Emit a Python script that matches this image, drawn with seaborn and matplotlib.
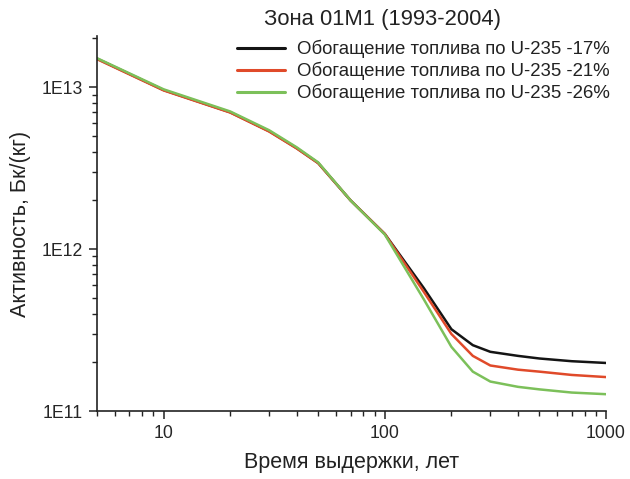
import matplotlib
matplotlib.use("Agg")
import matplotlib.pyplot as plt
import matplotlib.ticker as mticker
import numpy as np
import pandas as pd
import seaborn as sns

# Decay time, years
years = [5, 10, 20, 30, 40, 50, 70, 100, 150, 200, 250, 300, 400, 500, 700, 1000]

# Specific activity, Bq/kg, for three fuel enrichments
act_17 = [1.50e13, 9.6e12, 7.0e12, 5.35e12, 4.2e12, 3.4e12, 2.0e12, 1.24e12,
          5.75e11, 3.2e11, 2.55e11, 2.32e11, 2.19e11, 2.11e11, 2.03e11, 1.98e11]
act_21 = [1.49e13, 9.55e12, 6.97e12, 5.32e12, 4.18e12, 3.39e12, 2.0e12, 1.24e12,
          5.45e11, 2.99e11, 2.19e11, 1.91e11, 1.80e11, 1.75e11, 1.67e11, 1.62e11]
act_26 = [1.51e13, 9.7e12, 7.08e12, 5.42e12, 4.25e12, 3.43e12, 2.0e12, 1.23e12,
          4.9e11, 2.49e11, 1.75e11, 1.52e11, 1.41e11, 1.36e11, 1.30e11, 1.27e11]

series_labels = [
    "Обогащение топлива по U-235 -17%",
    "Обогащение топлива по U-235 -21%",
    "Обогащение топлива по U-235 -26%",
]
colors = ["#141414", "#e04a2a", "#7cc05a"]

title = "Зона 01М1 (1993-2004)"
x_label = "Время выдержки, лет"
y_label = "Активность, Бк/(кг)"

frames = []
for lab, vals in zip(series_labels, [act_17, act_21, act_26]):
    frames.append(pd.DataFrame({"years": years, "activity": vals, "series": lab}))
df = pd.concat(frames, ignore_index=True)

sns.set_style("ticks")
plt.rcParams["font.family"] = ["Liberation Sans", "DejaVu Sans"]

fig = plt.figure(figsize=(6.30, 4.79), dpi=100)
ax = fig.add_axes([97 / 630, 1 - 411 / 479, (606 - 97) / 630, (411 - 36) / 479])

sns.lineplot(data=df, x="years", y="activity", hue="series",
             hue_order=series_labels, palette=colors, linewidth=1.8,
             ax=ax, legend=True)

ax.set_xscale("log")
ax.set_yscale("log")
ax.set_xlim(5, 1000)
ax.set_ylim(1e11, 2.07e13)

ax.xaxis.set_major_locator(mticker.FixedLocator([10, 100, 1000]))
ax.xaxis.set_major_formatter(mticker.FixedFormatter(["10", "100", "1000"]))
ax.xaxis.set_minor_locator(mticker.LogLocator(base=10, subs=np.arange(2, 10)))
ax.xaxis.set_minor_formatter(mticker.NullFormatter())

ax.yaxis.set_major_locator(mticker.FixedLocator([1e11, 1e12, 1e13]))
ax.yaxis.set_major_formatter(mticker.FixedFormatter(["1E11", "1E12", "1E13"]))
ax.yaxis.set_minor_locator(mticker.LogLocator(base=10, subs=np.arange(2, 10)))
ax.yaxis.set_minor_formatter(mticker.NullFormatter())

ax.tick_params(axis="both", which="major", direction="out", length=6,
               width=1.1, labelsize=12.7, color="#222222", pad=4)
ax.tick_params(axis="both", which="minor", direction="out", length=3.5,
               width=1.0, color="#222222")

for side in ["top", "right"]:
    ax.spines[side].set_visible(False)
for side in ["left", "bottom"]:
    ax.spines[side].set_linewidth(1.2)
    ax.spines[side].set_color("#222222")

ax.set_xlabel(x_label, fontsize=15.5, labelpad=7, color="#222222")
ax.set_ylabel(y_label, fontsize=15.5, labelpad=8, color="#222222")

fig.text(383 / 630, 1 - 19 / 479, title, ha="center", va="center",
         fontsize=15.8, color="#222222")

leg = ax.legend(loc="upper left", bbox_to_anchor=(237 / 630, 1 - 40 / 479),
                bbox_transform=fig.transFigure, frameon=False,
                fontsize=13.4, handlelength=2.6, handletextpad=0.65,
                labelspacing=0.2, borderpad=0, borderaxespad=0)
for line in leg.get_lines():
    line.set_linewidth(2.2)
for t in leg.get_texts():
    t.set_color("#222222")

fig.savefig("out.png", dpi=100)
